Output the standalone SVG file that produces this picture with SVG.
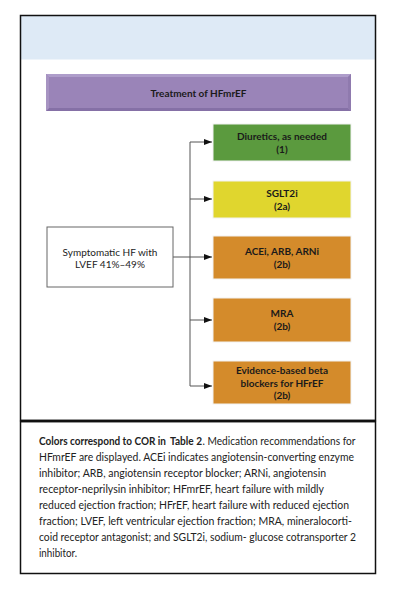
<svg xmlns="http://www.w3.org/2000/svg" width="400" height="600" viewBox="0 0 400 600">
<style>
.node-t{font-family:Lato,"Liberation Sans",sans-serif;font-weight:bold;font-size:10px;fill:#1a1a1a;text-anchor:middle}
.plain{font-family:Lato,"Liberation Sans",sans-serif;font-size:10px;fill:#222;text-anchor:middle}
.cap{font-family:Lato,"Liberation Sans",sans-serif;font-size:10.5px;fill:#222}
.conn{stroke:#555;stroke-width:1;fill:none}
.box{stroke:#f2f2f2;stroke-width:1}
</style>
<defs>
<marker id="ah" markerUnits="userSpaceOnUse" markerWidth="8" markerHeight="6" refX="8" refY="3" orient="auto">
<path d="M0,0 L8,3 L0,6 z" fill="#111"/>
</marker>
</defs>
<rect width="400" height="600" fill="#fff"/>
<!-- frame -->
<rect x="20.5" y="15.5" width="355" height="44" fill="#deeaf6"/>
<rect x="20.5" y="15.5" width="355" height="405" fill="none" stroke="#111" stroke-width="1.5"/>
<rect x="20.5" y="421.5" width="355" height="152" fill="none" stroke="#111" stroke-width="1.5"/>
<line x1="20" y1="421" x2="376" y2="421" stroke="#111" stroke-width="2.5"/>

<g id="title">
<rect x="46" y="74" width="305" height="37" fill="#9a84b8"/>
<path d="M46,74 h305 l-3,3 h-299 z" fill="#ae9dca"/>
<path d="M46,111 h305 l-3,-3 h-299 z" fill="#8570a6"/>
<path d="M46,74 v37 l3,-3 v-31 z" fill="#a794c2"/>
<path d="M351,74 v37 l-3,-3 v-31 z" fill="#8f7aae"/>
<text class="node-t" x="198.5" y="97" font-size="10.5">Treatment of HFmrEF</text>
</g>

<g id="connectors">
<line class="conn" x1="190" y1="142" x2="190" y2="386"/>
<line class="conn" x1="173" y1="257" x2="212" y2="257" marker-end="url(#ah)"/>
<line class="conn" x1="190" y1="142" x2="212" y2="142" marker-end="url(#ah)"/>
<line class="conn" x1="190" y1="199" x2="212" y2="199" marker-end="url(#ah)"/>
<line class="conn" x1="190" y1="320" x2="212" y2="320" marker-end="url(#ah)"/>
<line class="conn" x1="190" y1="386" x2="212" y2="386" marker-end="url(#ah)"/>
</g>

<g id="source">
<rect x="47" y="227" width="126" height="60" fill="#fff" stroke="#666" stroke-width="1"/>
<text class="plain" x="110" y="255.5">Symptomatic HF with</text>
<text class="plain" x="110" y="268">LVEF 41%–49%</text>
</g>

<g id="diuretics">
<rect class="box" x="213" y="124" width="138" height="37" fill="#5b9a3e"/>
<text class="node-t" x="282" y="139.5">Diuretics, as needed</text>
<text class="node-t" x="282" y="152.5">(1)</text>
</g>

<g id="sglt2i">
<rect class="box" x="213" y="181" width="138" height="37" fill="#e0d62e"/>
<text class="node-t" x="282" y="196.5">SGLT2i</text>
<text class="node-t" x="282" y="210">(2a)</text>
</g>

<g id="acei">
<rect class="box" x="213" y="236" width="138" height="43" fill="#d48b2b"/>
<text class="node-t" x="282" y="255">ACEi, ARB, ARNi</text>
<text class="node-t" x="282" y="268">(2b)</text>
</g>

<g id="mra">
<rect class="box" x="213" y="298" width="138" height="44" fill="#d48b2b"/>
<text class="node-t" x="282" y="316.5">MRA</text>
<text class="node-t" x="282" y="330">(2b)</text>
</g>

<g id="beta">
<rect class="box" x="213" y="361" width="138" height="43" fill="#d48b2b"/>
<text class="node-t" x="282" y="374">Evidence-based beta</text>
<text class="node-t" x="282" y="386.5">blockers for HFrEF</text>
<text class="node-t" x="282" y="399">(2b)</text>
</g>

<g id="caption">
<text class="cap" x="39" y="444.5" font-weight="bold" fill="#111" textLength="127" lengthAdjust="spacingAndGlyphs">Colors correspond to COR in</text>
<text class="cap" x="170" y="444.5" font-weight="bold" fill="#2a8cc4" textLength="32" lengthAdjust="spacingAndGlyphs">Table 2</text>
<text class="cap" x="202.5" y="444.5" textLength="153" lengthAdjust="spacingAndGlyphs">. Medication recommendations for</text>
<text class="cap" x="39" y="460.5" textLength="315" lengthAdjust="spacingAndGlyphs">HFmrEF are displayed. ACEi indicates angiotensin-converting enzyme</text>
<text class="cap" x="39" y="476.5" textLength="287" lengthAdjust="spacingAndGlyphs">inhibitor; ARB, angiotensin receptor blocker; ARNi, angiotensin</text>
<text class="cap" x="39" y="492.5" textLength="285" lengthAdjust="spacingAndGlyphs">receptor-neprilysin inhibitor; HFmrEF, heart failure with mildly</text>
<text class="cap" x="39" y="508.5" textLength="310" lengthAdjust="spacingAndGlyphs">reduced ejection fraction; HFrEF, heart failure with reduced ejection</text>
<text class="cap" x="39" y="524.5" textLength="313" lengthAdjust="spacingAndGlyphs">fraction; LVEF, left ventricular ejection fraction; MRA, mineralocorti-</text>
<text class="cap" x="39" y="540.5" textLength="317" lengthAdjust="spacingAndGlyphs">coid receptor antagonist; and SGLT2i, sodium- glucose cotransporter 2</text>
<text class="cap" x="39" y="556.5" textLength="38" lengthAdjust="spacingAndGlyphs">inhibitor.</text>
</g>
</svg>
